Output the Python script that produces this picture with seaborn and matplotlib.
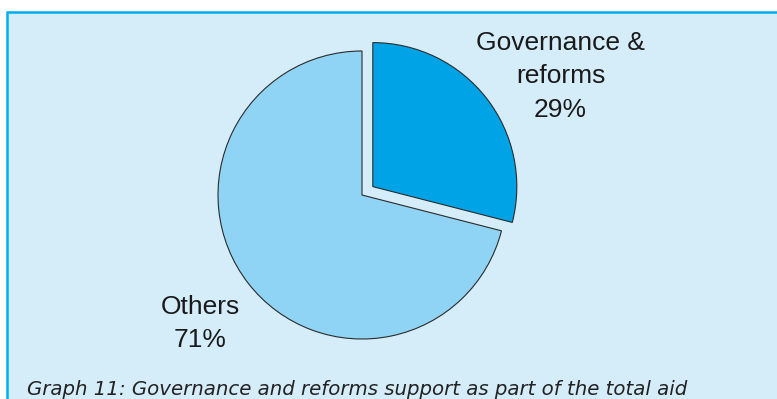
import matplotlib
matplotlib.use("Agg")
import matplotlib.pyplot as plt
from matplotlib.patches import Rectangle
import seaborn as sns

# Share of total aid
categories = ["Governance &\nreforms", "Others"]
shares = [29, 71]
slice_colors = ["#00a3e6", "#8fd4f5"]
caption = "Graph 11: Governance and reforms support as part of the total aid"

sns.set_theme(style="white")
plt.rcParams["font.family"] = ["Liberation Sans", "DejaVu Sans"]

W, H = 777, 399
fig = plt.figure(figsize=(W / 100, H / 100), dpi=100)
fig.patch.set_facecolor("white")

# framed light-blue panel
panel = Rectangle((7 / W, -0.05), 1.0, (H - 12) / H + 0.05, transform=fig.transFigure,
                  facecolor="#d5ecf9", edgecolor="#00aeef", linewidth=1.8, zorder=-10)
fig.patches.append(panel)

cx, cy, r = 362, 195, 144
ax = fig.add_axes([(cx - r) / W, (H - cy - r) / H, 2 * r / W, 2 * r / H])
ax.set_facecolor("none")
ax.set_zorder(5)
palette = sns.color_palette(slice_colors)
wedges, _ = ax.pie(shares, colors=palette, startangle=90, counterclock=False,
                   explode=[0.095, 0], radius=1,
                   wedgeprops=dict(edgecolor="#2b2b2b", linewidth=0.8))
ax.set_xlim(-1, 1)
ax.set_ylim(-1, 1)
ax.set_aspect("equal")
ax.axis("off")
for w in wedges:
    w.set_clip_on(False)

# last-line baselines of the two labels
label_pos = [(560.5, 117), (200, 347)]
for name, val, (px, py) in zip(categories, shares, label_pos):
    fig.text(px / W, 1 - py / H, f"{name}\n{val}%", ha="center", va="baseline",
             fontsize=19, color="#1a1a1a", linespacing=1.5, zorder=6)

fig.text(27 / W, 1 - 395 / H, caption, ha="left", va="baseline", fontsize=14.25,
         style="italic", color="#222222", family=["DejaVu Sans"], zorder=6)

fig.savefig("out.png", dpi=100)
